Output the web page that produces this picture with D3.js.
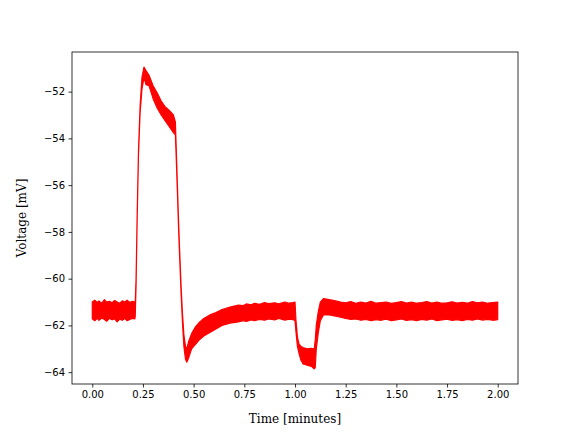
<!DOCTYPE html>
<html>
<head>
<meta charset="utf-8">
<script src="https://cdn.jsdelivr.net/npm/d3@7"></script>
<style>
  html, body { margin: 0; padding: 0; background: #fff; }
  svg { display: block; }
</style>
</head>
<body>
<svg id="chart" width="576" height="432"></svg>
<script>
// Time (minutes) and the upper / lower envelope of the noisy voltage trace (mV)
const time = [
  0.000, 0.012, 0.025, 0.033, 0.047, 0.060, 0.071, 0.085, 0.098, 0.110, 0.123, 0.135, 0.148, 0.160, 0.172, 0.185, 0.197, 0.210,
  0.212, 0.216, 0.222, 0.228, 0.236, 0.245, 0.255,
  0.265, 0.28, 0.30, 0.32, 0.34, 0.36, 0.38, 0.40, 0.41,
  0.414, 0.42, 0.425, 0.432, 0.438, 0.445, 0.452, 0.46, 0.466,
  0.475, 0.49, 0.51, 0.53, 0.55, 0.58, 0.61, 0.64, 0.68, 0.72, 0.745, 0.76, 0.785, 0.80, 0.825, 0.85, 0.87, 0.90, 0.92, 0.95, 0.97, 0.99,
  1.000, 1.005, 1.012, 1.02, 1.03, 1.04, 1.06, 1.08, 1.095, 1.100, 1.105, 1.115, 1.125,
  1.14, 1.17, 1.20, 1.225, 1.25, 1.275, 1.30, 1.325, 1.35, 1.375, 1.40, 1.425, 1.45, 1.475, 1.50, 1.525, 1.55, 1.575,
  1.60, 1.625, 1.65, 1.675, 1.70, 1.725, 1.75, 1.775, 1.80, 1.825, 1.85, 1.875, 1.90, 1.925, 1.95, 1.975, 2.00
];
const upper = [
  -61.00, -60.92, -61.02, -60.95, -61.05, -60.90, -61.00, -60.97, -61.03, -60.93, -61.00, -61.05, -60.95, -61.00, -60.92, -61.02, -60.97, -61.00,
  -61.00, -60.00, -57.00, -54.50, -52.60, -51.40, -50.95,
  -51.10, -51.30, -51.75, -52.05, -52.40, -52.65, -52.80, -53.00, -53.30,
  -54.40, -56.00, -57.40, -59.00, -60.30, -61.50, -62.40, -62.90, -63.00,
  -62.70, -62.35, -62.05, -61.85, -61.70, -61.55, -61.45, -61.32, -61.22, -61.13, -61.15, -61.08, -61.12, -61.05, -61.10, -61.02, -61.07, -61.03, -61.08, -61.00, -61.05, -61.02,
  -61.00, -61.80, -62.50, -62.80, -62.90, -62.95, -63.00, -62.98, -63.00, -62.60, -62.00, -61.40, -61.00,
  -60.85, -60.90, -60.95, -61.00, -61.03, -60.98, -61.05, -61.00, -61.04, -60.97, -61.05, -61.02, -61.00, -61.06, -61.02, -60.98, -61.04, -61.00,
  -61.05, -61.02, -60.98, -61.04, -61.00, -61.05, -61.03, -60.99, -61.04, -61.01, -61.05, -60.98, -61.03, -61.00, -61.05, -61.02, -61.00
];
const lower = [
  -61.72, -61.80, -61.70, -61.78, -61.68, -61.75, -61.82, -61.70, -61.76, -61.72, -61.85, -61.73, -61.78, -61.70, -61.80, -61.74, -61.70, -61.72,
  -61.60, -60.30, -57.20, -54.70, -52.90, -51.90, -51.40,
  -51.70, -51.75, -52.30, -52.70, -53.00, -53.25, -53.50, -53.75, -53.85,
  -54.80, -56.30, -57.70, -59.30, -60.60, -61.90, -62.90, -63.45, -63.57,
  -63.40, -63.00, -62.80, -62.60, -62.45, -62.30, -62.15, -62.00, -61.90, -61.85, -61.80, -61.83, -61.76, -61.80, -61.74, -61.78, -61.72, -61.76, -61.70, -61.77, -61.73, -61.75,
  -61.80, -62.30, -62.90, -63.20, -63.50, -63.65, -63.70, -63.75, -63.86, -63.80, -63.00, -62.30, -61.80,
  -61.55, -61.55, -61.60, -61.65, -61.70, -61.74, -61.72, -61.78, -61.74, -61.80, -61.75, -61.78, -61.73, -61.80, -61.76, -61.72, -61.79, -61.75,
  -61.80, -61.74, -61.78, -61.72, -61.80, -61.76, -61.73, -61.79, -61.75, -61.80, -61.74, -61.78, -61.72, -61.77, -61.74, -61.78, -61.75
];
const xTicks = [0.00, 0.25, 0.50, 0.75, 1.00, 1.25, 1.50, 1.75, 2.00];
const yTicks = [-64, -62, -60, -58, -56, -54, -52];
const xLabel = "Time [minutes]";
const yLabel = "Voltage [mV]";

const W = 576, H = 432;
const m = { left: 72, right: 518, top: 52, bottom: 384 };
const svg = d3.select("#chart");

const tMin = d3.min(time), tMax = d3.max(time);
const vMin = d3.min(lower), vMax = d3.max(upper);
const tPad = (tMax - tMin) * 0.05, vPad = (vMax - vMin) * 0.05;

const x = d3.scaleLinear().domain([tMin - tPad, tMax + tPad]).range([m.left, m.right]);
const y = d3.scaleLinear().domain([vMin - vPad, vMax + vPad]).range([m.bottom, m.top]);

const pts = time.map((t, i) => ({ t, hi: upper[i], lo: lower[i] }));

svg.append("defs").append("clipPath").attr("id", "clip")
  .append("rect").attr("x", m.left).attr("y", m.top)
  .attr("width", m.right - m.left).attr("height", m.bottom - m.top);

const area = d3.area().x(d => x(d.t)).y0(d => y(d.lo)).y1(d => y(d.hi)).curve(d3.curveLinear);
svg.append("path").datum(pts)
  .attr("clip-path", "url(#clip)")
  .attr("d", area)
  .attr("fill", "#ff0000")
  .attr("stroke", "#ff0000")
  .attr("stroke-width", 1.2)
  .attr("stroke-linejoin", "round");

const fmtMinus = s => s.replace("-", "\u2212");

const xAxis = svg.append("g")
  .attr("transform", `translate(0,${m.bottom})`)
  .call(d3.axisBottom(x).tickValues(xTicks).tickSize(3.5).tickPadding(3.5).tickFormat(d3.format(".2f")));
const yAxis = svg.append("g")
  .attr("transform", `translate(${m.left},0)`)
  .call(d3.axisLeft(y).tickValues(yTicks).tickSize(3.5).tickPadding(3.5).tickFormat(d => fmtMinus(String(d))));

[xAxis, yAxis].forEach(g => {
  g.select(".domain").remove();
  g.selectAll(".tick line").attr("stroke", "#000").attr("stroke-width", 0.8);
  g.selectAll(".tick text").attr("fill", "#000")
    .style("font-family", "'DejaVu Sans', sans-serif").style("font-size", "10px");
});

svg.append("rect")
  .attr("x", m.left).attr("y", m.top)
  .attr("width", m.right - m.left).attr("height", m.bottom - m.top)
  .attr("fill", "none").attr("stroke", "#000").attr("stroke-width", 0.8);

svg.append("text")
  .attr("x", (m.left + m.right) / 2).attr("y", 423)
  .attr("text-anchor", "middle")
  .style("font-family", "'DejaVu Serif', serif").style("font-size", "12px")
  .text(xLabel);

svg.append("text")
  .attr("transform", `translate(26,${(m.top + m.bottom) / 2}) rotate(-90)`)
  .attr("text-anchor", "middle")
  .style("font-family", "'DejaVu Serif', serif").style("font-size", "12px")
  .text(yLabel);
</script>
</body>
</html>
